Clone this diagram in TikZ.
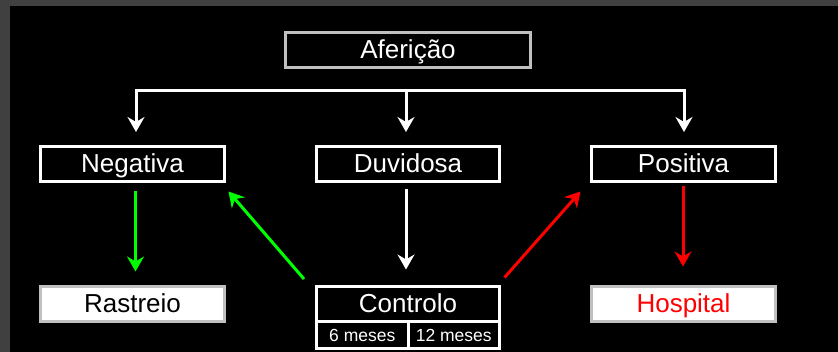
\documentclass[tikz,border=0pt]{standalone}
\usepackage{fontspec}
\setmainfont{Liberation Sans}
\usetikzlibrary{arrows.meta}
\definecolor{bggray}{HTML}{404040}
\definecolor{lgray}{HTML}{C0C0C0}
\definecolor{vgreen}{HTML}{00FF00}
\definecolor{vred}{HTML}{FF0000}
\tikzset{
  box/.style={draw=white, line width=3pt, fill=black, text=white, rectangle,
    minimum width=184pt, minimum height=35pt, inner sep=0pt,
    font=\fontsize{26}{30}\selectfont, text height=18.6pt, text depth=2pt},
  graybox/.style={box, draw=lgray},
  wbox/.style={box, draw=lgray, fill=white, text=black},
  cell/.style={draw=white, line width=3pt, fill=black, text=white, rectangle,
    minimum height=27pt, inner sep=0pt,
    font=\fontsize{17.5}{20}\selectfont, text height=12.5pt, text depth=0pt},
  arr/.style={line width=3pt, -{Stealth[length=15pt, width=17pt, inset=5pt]}},
}
\begin{document}
\begin{tikzpicture}[x=1pt, y=-1pt]
\useasboundingbox (0,0) rectangle (838,352);
\fill[bggray] (0,0) rectangle (838,352);
\fill[black] (10,6) rectangle (838,352);

\node[graybox, minimum width=245pt, minimum height=34.5pt] (afer) at (408,50) {Aferição};
\node[box] (neg) at (132.5,164) {Negativa};
\node[box, minimum width=183pt] (duv) at (408,164) {Duvidosa};
\node[box] (pos) at (683.5,164) {Positiva};
\node[wbox] (ras) at (132.5,304) {Rastreio};
\node[wbox, text=vred] (hosp) at (683.5,304) {Hospital};
\node[box, minimum width=183pt] (ctrl) at (408,304) {Controlo};
\node[cell, minimum width=91.5pt] (c6) at (362.25,335) {6 meses};
\node[cell, minimum width=91.5pt] (c12) at (453.75,335) {12 meses};

\coordinate (busL) at (136,90.5);
\coordinate (busM) at (406,90.5);
\coordinate (busR) at (684,90.5);
\draw[white, line width=3pt, line cap=rect] (busL) -- (busR);
\draw[arr, white, shorten >=13pt] (busL) -- (busL |- neg.north);
\draw[arr, white, shorten >=13pt] (busM) -- (busM |- duv.north);
\draw[arr, white, shorten >=13pt] (busR) -- (busR |- pos.north);

\draw[arr, vgreen, shorten <=8.5pt, shorten >=13.5pt] ([xshift=3pt]neg.south) -- ([xshift=3pt]neg.south |- ras.north);
\draw[arr, white, shorten <=6.5pt, shorten >=15.5pt] ([xshift=-2pt]duv.south) -- ([xshift=-2pt]ctrl.north);
\draw[arr, vred, shorten <=3.5pt, shorten >=18.5pt] ([xshift=-0.5pt]pos.south) -- ([xshift=-0.5pt]hosp.north);

\draw[arr, vgreen] ([shift={(-11,-6)}]ctrl.north west) -- ([shift={(2.5,8.5)}]neg.south east);
\draw[arr, vred] ([shift={(3.5,-7.5)}]ctrl.north east) -- ([shift={(-9.5,8.5)}]pos.south west);
\end{tikzpicture}
\end{document}
